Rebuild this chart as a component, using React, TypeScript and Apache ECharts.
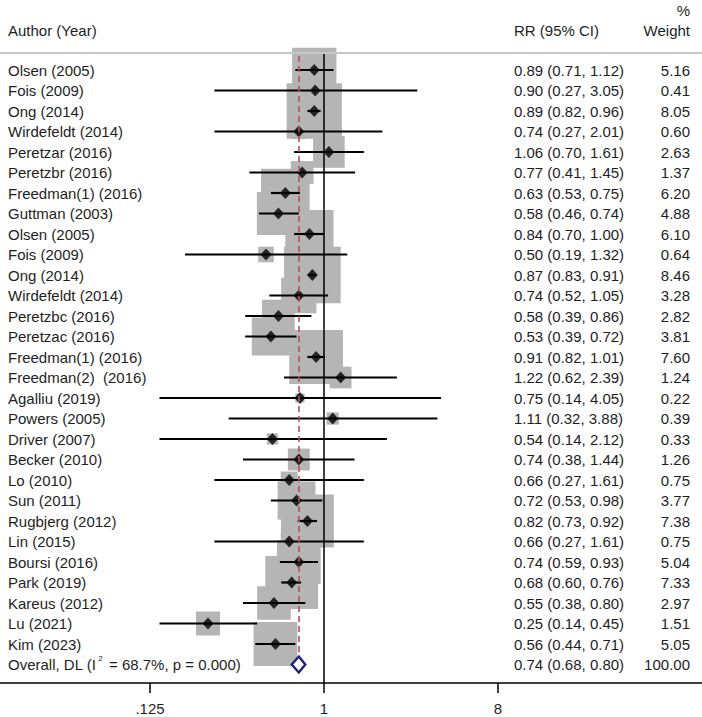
import React, { useEffect, useRef } from "react";
import * as echarts from "echarts";

// ---------- data ----------
const authors = [
  "Olsen (2005)", "Fois (2009)", "Ong (2014)", "Wirdefeldt (2014)", "Peretzar (2016)",
  "Peretzbr (2016)", "Freedman(1) (2016)", "Guttman (2003)", "Olsen (2005)", "Fois (2009)",
  "Ong (2014)", "Wirdefeldt (2014)", "Peretzbc (2016)", "Peretzac (2016)", "Freedman(1) (2016)",
  "Freedman(2)  (2016)", "Agalliu (2019)", "Powers (2005)", "Driver (2007)", "Becker (2010)",
  "Lo (2010)", "Sun (2011)", "Rugbjerg (2012)", "Lin (2015)", "Boursi (2016)",
  "Park (2019)", "Kareus (2012)", "Lu (2021)", "Kim (2023)",
];
const rr = [0.89, 0.90, 0.89, 0.74, 1.06, 0.77, 0.63, 0.58, 0.84, 0.50, 0.87, 0.74, 0.58, 0.53, 0.91, 1.22, 0.75, 1.11, 0.54, 0.74, 0.66, 0.72, 0.82, 0.66, 0.74, 0.68, 0.55, 0.25, 0.56];
const ciLow = [0.71, 0.27, 0.82, 0.27, 0.70, 0.41, 0.53, 0.46, 0.70, 0.19, 0.83, 0.52, 0.39, 0.39, 0.82, 0.62, 0.14, 0.32, 0.14, 0.38, 0.27, 0.53, 0.73, 0.27, 0.59, 0.60, 0.38, 0.14, 0.44];
const ciHigh = [1.12, 3.05, 0.96, 2.01, 1.61, 1.45, 0.75, 0.74, 1.00, 1.32, 0.91, 1.05, 0.86, 0.72, 1.01, 2.39, 4.05, 3.88, 2.12, 1.44, 1.61, 0.98, 0.92, 1.61, 0.93, 0.76, 0.80, 0.45, 0.71];
const weights = [5.16, 0.41, 8.05, 0.60, 2.63, 1.37, 6.20, 4.88, 6.10, 0.64, 8.46, 3.28, 2.82, 3.81, 7.60, 1.24, 0.22, 0.39, 0.33, 1.26, 0.75, 3.77, 7.38, 0.75, 5.04, 7.33, 2.97, 1.51, 5.05];

const overallName = "Overall, DL";
const overallI2 = "68.7%";
const overallP = "0.000";
const overallRR = 0.74;
const overallLow = 0.68;
const overallHigh = 0.80;
const overallWeight = 100.0;

const tickValues = [0.125, 1, 8];
const tickLabels = [".125", "1", "8"];

const headerAuthor = "Author (Year)";
const headerRR = "RR (95% CI)";
const headerPct = "%";
const headerWeight = "Weight";

// ---------- layout ----------
const W = 702;
const H = 717;
const GRID_TOP = 53;
const GRID_BOTTOM_Y = 683;
const ROW0_Y = 70;
const ROW_STEP = 20.5;
const PX_PER_LOG2 = 58;
const X_NULL = 324;
const FONT = "'Liberation Sans', Arial, Helvetica, sans-serif";
const TEXT_COLOR = "#1e1e1e";
const FS = 15;

const lg = (v: number) => Math.log2(v);

export default function App() {
  const ref = useRef<HTMLDivElement>(null);

  useEffect(() => {
    if (!ref.current) return;
    const chart = echarts.init(ref.current, null, { renderer: "svg", width: W, height: H });

    const n = authors.length;
    const overallIdx = n;
    const yMin = (GRID_TOP - ROW0_Y) / ROW_STEP;
    const yMax = (GRID_BOTTOM_Y - ROW0_Y) / ROW_STEP;
    const xMin = -X_NULL / PX_PER_LOG2;
    const xMax = (W - X_NULL) / PX_PER_LOG2;

    const boxData = rr.map((v, i) => [lg(v), i, weights[i]]);
    const ciData = rr.map((_, i) => [lg(ciLow[i]), lg(ciHigh[i]), i]);
    const pointData = rr.map((v, i) => [lg(v), i]);
    const textRows = [
      ...authors.map((a, i) => [i, a, `${rr[i].toFixed(2)} (${ciLow[i].toFixed(2)}, ${ciHigh[i].toFixed(2)})`, weights[i].toFixed(2)]),
      [overallIdx, "__overall__", `${overallRR.toFixed(2)} (${overallLow.toFixed(2)}, ${overallHigh.toFixed(2)})`, overallWeight.toFixed(2)],
    ];

    const tickLog = tickValues.map(lg);
    const labelFor = (v: number) => {
      const k = tickLog.findIndex((t) => Math.abs(t - v) < 1e-6);
      return k >= 0 ? tickLabels[k] : "";
    };

    const textStyle = (text: string, x: number, y: number, align: string) => ({
      type: "text",
      style: {
        text, x, y,
        fill: TEXT_COLOR,
        font: `${FS}px ${FONT}`,
        fontSize: FS,
        fontFamily: FONT,
        align, textAlign: align,
        verticalAlign: "middle", textVerticalAlign: "middle",
      },
    });

    const option: any = {
      animation: false,
      backgroundColor: "#ffffff",
      grid: { left: 0, right: 0, top: GRID_TOP, bottom: H - GRID_BOTTOM_Y, containLabel: false },
      xAxis: {
        type: "value",
        min: xMin,
        max: xMax,
        splitLine: { show: false },
        axisLine: { show: true, onZero: false, lineStyle: { color: "#000", width: 1.5 } },
        axisTick: { show: true, customValues: tickLog, length: 10, lineStyle: { color: "#000", width: 1.5 } },
        axisLabel: {
          show: true,
          customValues: tickLog,
          formatter: (v: number) => labelFor(v),
          color: TEXT_COLOR,
          fontSize: FS,
          fontFamily: FONT,
          margin: 18,
        },
      },
      yAxis: {
        type: "value",
        inverse: true,
        min: yMin,
        max: yMax,
        show: false,
        splitLine: { show: false },
      },
      graphic: [
        { type: "line", shape: { x1: 0, y1: GRID_TOP, x2: W, y2: GRID_TOP }, style: { stroke: "#c8c8c8", lineWidth: 2 }, z: 10 },
        { type: "text", style: { text: headerAuthor, x: 8, y: 30, fill: TEXT_COLOR, font: `${FS}px ${FONT}`, textAlign: "left", textVerticalAlign: "middle" } },
        { type: "text", style: { text: headerRR, x: 514, y: 30, fill: TEXT_COLOR, font: `${FS}px ${FONT}`, textAlign: "left", textVerticalAlign: "middle" } },
        { type: "text", style: { text: headerPct, x: 690, y: 10, fill: TEXT_COLOR, font: `${FS}px ${FONT}`, textAlign: "right", textVerticalAlign: "middle" } },
        { type: "text", style: { text: headerWeight, x: 690, y: 30, fill: TEXT_COLOR, font: `${FS}px ${FONT}`, textAlign: "right", textVerticalAlign: "middle" } },
      ],
      series: [
        {
          name: "weightBoxes",
          type: "custom",
          z: 1,
          silent: true,
          data: boxData,
          renderItem: (_p: any, api: any) => {
            const c = api.coord([api.value(0), api.value(1)]);
            const s = 19.5 * Math.sqrt(api.value(2));
            return { type: "rect", shape: { x: c[0] - s / 2, y: c[1] - s / 2, width: s, height: s }, style: { fill: "#b5b5b5" } };
          },
        },
        {
          name: "refLines",
          type: "scatter",
          z: 2,
          silent: true,
          symbolSize: 0,
          data: [[lg(overallRR), overallIdx]],
          markLine: {
            silent: true,
            symbol: ["none", "none"],
            label: { show: false },
            animation: false,
            data: [
              { xAxis: 0, lineStyle: { color: "#000", width: 1.5, type: "solid" } },
              [
                { coord: [lg(overallRR), yMin + 0.15], lineStyle: { color: "#b5505a", width: 1.6, type: [6, 4] } },
                { coord: [lg(overallRR), overallIdx - 0.42] },
              ],
            ],
          },
        },
        {
          name: "ci",
          type: "custom",
          z: 3,
          silent: true,
          data: ciData,
          renderItem: (_p: any, api: any) => {
            const a = api.coord([api.value(0), api.value(2)]);
            const b = api.coord([api.value(1), api.value(2)]);
            return { type: "line", shape: { x1: a[0], y1: a[1], x2: b[0], y2: b[1] }, style: { stroke: "#000", lineWidth: 2.2 } };
          },
        },
        {
          name: "points",
          type: "scatter",
          z: 4,
          silent: true,
          symbol: "diamond",
          symbolSize: [11, 12],
          itemStyle: { color: "#000" },
          data: pointData,
        },
        {
          name: "overall",
          type: "custom",
          z: 5,
          silent: true,
          data: [[lg(overallLow), lg(overallRR), lg(overallHigh), overallIdx]],
          renderItem: (_p: any, api: any) => {
            const l = api.coord([api.value(0), api.value(3)]);
            const m = api.coord([api.value(1), api.value(3)]);
            const h = api.coord([api.value(2), api.value(3)]);
            return {
              type: "polygon",
              shape: { points: [[l[0], l[1]], [m[0], m[1] - 8], [h[0], h[1]], [m[0], m[1] + 8]] },
              style: { fill: "#ffffff", stroke: "#1c1f7c", lineWidth: 2.4 },
            };
          },
        },
        {
          name: "rowText",
          type: "custom",
          z: 6,
          silent: true,
          data: textRows,
          renderItem: (_p: any, api: any) => {
            const idx = api.value(0);
            const row = textRows[idx] as any[];
            const y = api.coord([0, idx])[1];
            const children: any[] = [];
            if (row[1] === "__overall__") {
              children.push({
                type: "text",
                style: {
                  text: `{a|${overallName} (I}{s|2}{a| = ${overallI2}, p = ${overallP})}`,
                  x: 8, y,
                  align: "left", textAlign: "left",
                  verticalAlign: "middle", textVerticalAlign: "middle",
                  rich: {
                    a: { fontSize: FS, fontFamily: FONT, fill: TEXT_COLOR, color: TEXT_COLOR, lineHeight: 20 },
                    s: { fontSize: 8, fontFamily: FONT, fill: TEXT_COLOR, color: TEXT_COLOR, verticalAlign: "top", lineHeight: 10, padding: [0, 2, 0, 2] },
                  },
                },
              });
            } else {
              children.push(textStyle(row[1], 8, y, "left"));
            }
            children.push(textStyle(row[2], 514, y, "left"));
            children.push(textStyle(row[3], 690, y, "right"));
            return { type: "group", children };
          },
        },
      ],
    };

    chart.setOption(option);
    return () => chart.dispose();
  }, []);

  return <div ref={ref} style={{ position: "fixed", left: 0, top: 0, width: W, height: H, background: "#fff" }} />;
}
